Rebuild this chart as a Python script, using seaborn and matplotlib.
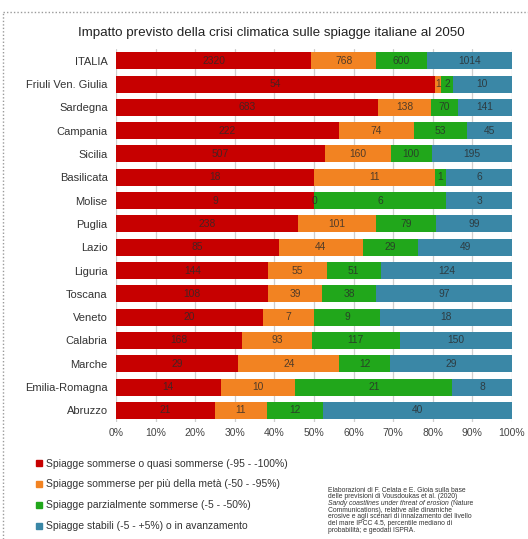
import numpy as np
import pandas as pd
import matplotlib
matplotlib.use("Agg")
import matplotlib.pyplot as plt
import seaborn as sns
from matplotlib.lines import Line2D

# === Dati (numero di spiagge per classe) ===
regioni = ["ITALIA", "Friuli Ven. Giulia", "Sardegna", "Campania", "Sicilia",
           "Basilicata", "Molise", "Puglia", "Lazio", "Liguria", "Toscana",
           "Veneto", "Calabria", "Marche", "Emilia-Romagna", "Abruzzo"]
sommerse = [2320, 54, 683, 222, 507, 18, 9, 238, 85, 144, 108, 20, 168, 29, 14, 21]
oltre_meta = [768, 1, 138, 74, 160, 11, 0, 101, 44, 55, 39, 7, 93, 24, 10, 11]
parziali = [600, 2, 70, 53, 100, 1, 6, 79, 29, 51, 38, 9, 117, 12, 21, 12]
stabili = [1014, 10, 141, 45, 195, 6, 3, 99, 49, 124, 97, 18, 150, 29, 8, 40]

etichette = ["Spiagge sommerse o quasi sommerse (-95 - -100%)",
             "Spiagge sommerse per più della metà (-50 - -95%)",
             "Spiagge parzialmente sommerse (-5 - -50%)",
             "Spiagge stabili (-5 - +5%) o in avanzamento"]
colori = ["#c70000", "#f28322", "#21a71b", "#3a87a6"]
x_ticks = [0, 10, 20, 30, 40, 50, 60, 70, 80, 90, 100]

titolo = "Impatto previsto della crisi climatica sulle spiagge italiane al 2050"
note = ["Elaborazioni di F. Celata e E. Gioia sulla base",
        "delle previsioni di Vousdoukas et al. (2020)",
        None,
        "Communications), relative alle dinamiche",
        "erosive e agli scenari di innalzamento del livello",
        "del mare IPCC 4.5, percentile mediano di",
        "probabilità; e geodati ISPRA."]

cols = ["sommerse", "oltre_meta", "parziali", "stabili"]
df = pd.DataFrame({"regione": regioni, "sommerse": sommerse,
                   "oltre_meta": oltre_meta, "parziali": parziali,
                   "stabili": stabili})
tot = df[cols].sum(axis=1)
pct = df[cols].div(tot, axis=0) * 100
cum = pct.cumsum(axis=1)

sns.set_theme(style="white")
plt.rcParams['font.family'] = ['Liberation Sans', 'DejaVu Sans']

fig = plt.figure(figsize=(5.28, 5.39), dpi=100)
ax = fig.add_axes([0.2197, 0.217, 0.75, 0.692])

# barre impilate: si disegnano le somme cumulate dalla più lunga
for col, colore in reversed(list(zip(cols, colori))):
    sns.barplot(x=cum[col], y=df["regione"], order=regioni, orient="h",
                color=colore, saturation=1, width=0.73, errorbar=None,
                linewidth=0, ax=ax, zorder=2)

# valori dentro le barre
for i in range(len(df)):
    prev = 0
    for col in cols:
        centro = prev + pct.loc[i, col] / 2
        ax.text(centro, i, str(df.loc[i, col]), ha="center", va="center",
                fontsize=7.4, color="#2a2a2a", alpha=0.8, zorder=3)
        prev = cum.loc[i, col]

ax.set_xlim(0, 100)
ax.set_ylim(len(regioni) - 0.5, -0.5)
ax.set_xticks(x_ticks)
ax.set_xticklabels([f"{v}%" for v in x_ticks])
ax.set_xlabel("")
ax.set_ylabel("")
ax.grid(axis="x", color="#cfcfcf", lw=0.9, zorder=0)
ax.set_axisbelow(True)
for s in ax.spines.values():
    s.set_visible(False)
ax.tick_params(axis="x", length=0, pad=4, labelsize=7.5, labelcolor="#444444")
ax.tick_params(axis="y", length=0, pad=6, labelsize=8, labelcolor="#333333")

# titolo
fig.text(0.513, 0.939, titolo, ha="center", va="center", fontsize=9.6,
         color="#222222")

# legenda
handles = [Line2D([], [], marker="s", ls="", color=c, markersize=4)
           for c in colori]
fig.legend(handles, etichette, loc="upper left", bbox_to_anchor=(0.057, 0.159),
           frameon=False, fontsize=7.5, labelspacing=1.05, handlelength=0.8,
           handletextpad=0.25, borderpad=0, labelcolor="#333333")

# note sulla fonte
x_note = 0.621
for k, riga in enumerate(note):
    y = 1 - (490 + k * 6.7) / 539
    if riga is None:
        t = fig.text(x_note, y, "Sandy coastlines under threat of erosion",
                     fontsize=4.85, style="italic", va="center", color="#333333")
        ax.annotate(" (Nature", xy=(1, 0.5), xycoords=t, va="center",
                    fontsize=4.85, color="#333333", annotation_clip=False)
    else:
        fig.text(x_note, y, riga, fontsize=4.85, va="center", color="#333333")

# bordo tratteggiato
fig.add_artist(Line2D([0.0057, 0.0057], [0, 0.978], transform=fig.transFigure,
                      ls=(0, (1, 1.5)), color="#9a9a9a", lw=1))
fig.add_artist(Line2D([0.0057, 1], [0.978, 0.978], transform=fig.transFigure,
                      ls=(0, (1, 1.5)), color="#9a9a9a", lw=1))

plt.savefig("out.png", dpi=100)
